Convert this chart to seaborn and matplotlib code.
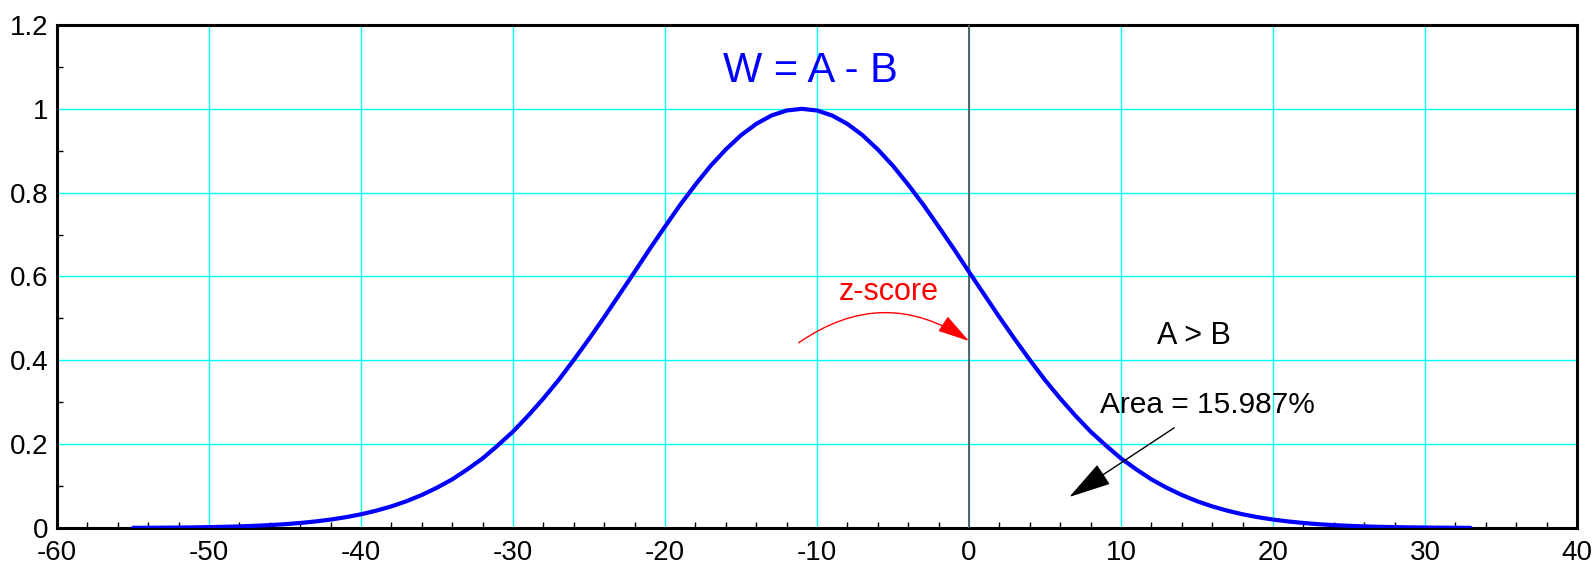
import matplotlib
matplotlib.use("Agg")
import matplotlib.pyplot as plt
import seaborn as sns
import pandas as pd
from matplotlib.patches import FancyArrowPatch
from matplotlib.ticker import MultipleLocator

# ---- data ----
w_values = list(range(-55, 34))
density = [0.0004, 0.0005, 0.0008, 0.0011, 0.0015, 0.0021, 0.0028, 0.0038, 0.0052,
           0.0069, 0.0091, 0.0120, 0.0156, 0.0201, 0.0258, 0.0327, 0.0413, 0.0516,
           0.0640, 0.0788, 0.0962, 0.116, 0.140, 0.166, 0.197, 0.230, 0.268, 0.309,
           0.353, 0.401, 0.451, 0.503, 0.557, 0.611, 0.666, 0.719, 0.771, 0.819,
           0.864, 0.903, 0.937, 0.964, 0.984, 0.996,
           1.000,
           0.996, 0.984, 0.964, 0.937, 0.903, 0.864, 0.819, 0.771, 0.719, 0.666,
           0.611, 0.557, 0.503, 0.451, 0.401, 0.353, 0.309, 0.268, 0.230, 0.197,
           0.166, 0.140, 0.116, 0.0962, 0.0788, 0.0640, 0.0516, 0.0413, 0.0327,
           0.0258, 0.0201, 0.0156, 0.0120, 0.0091, 0.0069, 0.0052, 0.0038, 0.0028,
           0.0021, 0.0015, 0.0011, 0.0008, 0.0005, 0.0004]
title_text = "W = A - B"
zscore_text = "z-score"
side_text = "A > B"
area_text = "Area = 15.987%"
z_line = 0

sns.set_theme(style="white")
plt.rcParams["font.family"] = ["Liberation Sans", "DejaVu Sans"]
plt.rcParams["axes.unicode_minus"] = False

fig = plt.figure(figsize=(15.96, 5.63), dpi=100)
ax = fig.add_axes([57 / 1596, 1 - 528 / 563, (1577 - 57) / 1596, (528 - 25) / 563])

df = pd.DataFrame({"W": w_values, "density": density})
sns.lineplot(data=df, x="W", y="density", ax=ax, color="#0000ff", linewidth=3.0,
             zorder=5, solid_joinstyle="round")

ax.set_xlim(-60, 40)
ax.set_ylim(0, 1.2)
ax.xaxis.set_major_locator(MultipleLocator(10))
ax.xaxis.set_minor_locator(MultipleLocator(2))
ax.yaxis.set_major_locator(MultipleLocator(0.2))
ax.yaxis.set_minor_locator(MultipleLocator(0.1))
ax.yaxis.set_major_formatter(plt.FuncFormatter(lambda v, p: f"{v:g}"))
ax.set_xlabel("")
ax.set_ylabel("")

ax.grid(True, which="major", color="#00ffff", linewidth=1.0, zorder=0)
ax.set_axisbelow(True)
for s in ax.spines.values():
    s.set_color("black")
    s.set_linewidth(2.2)
    s.set_visible(True)

ax.tick_params(which="major", length=0, labelsize=20, colors="black")
ax.tick_params(axis="x", which="major", pad=8.5)
ax.tick_params(axis="y", which="major", pad=6)
ax.tick_params(which="minor", direction="in", length=4, width=1.0, color="black",
               bottom=True, left=True, top=False, right=False)

ax.axvline(z_line, color="#555555", linewidth=1.3, zorder=3)

ax.text(-10.4, 1.091, title_text, color="#0000ff", fontsize=30, ha="center", va="center")
ax.text(-5.3, 0.563, zscore_text, color="#ff0000", fontsize=22, ha="center", va="center")
ax.text(14.8, 0.458, side_text, color="black", fontsize=22, ha="center", va="center")
ax.text(15.7, 0.294, area_text, color="black", fontsize=21.5, ha="center", va="center")

arc = FancyArrowPatch((-11.2, 0.442), (0, 0.446), connectionstyle="arc3,rad=-0.34",
                      arrowstyle="-|>,head_length=2.0,head_width=0.55", mutation_scale=10,
                      color="#ff0000", linewidth=1.0, zorder=6, shrinkA=0, shrinkB=0)
ax.add_patch(arc)
arr = FancyArrowPatch((13.5, 0.239), (6.6, 0.074), connectionstyle="arc3,rad=0",
                      arrowstyle="-|>,head_length=2.7,head_width=0.75", mutation_scale=10,
                      color="black", linewidth=1.0, zorder=6, shrinkA=0, shrinkB=0)
ax.add_patch(arr)

fig.savefig("out.png", dpi=100)
